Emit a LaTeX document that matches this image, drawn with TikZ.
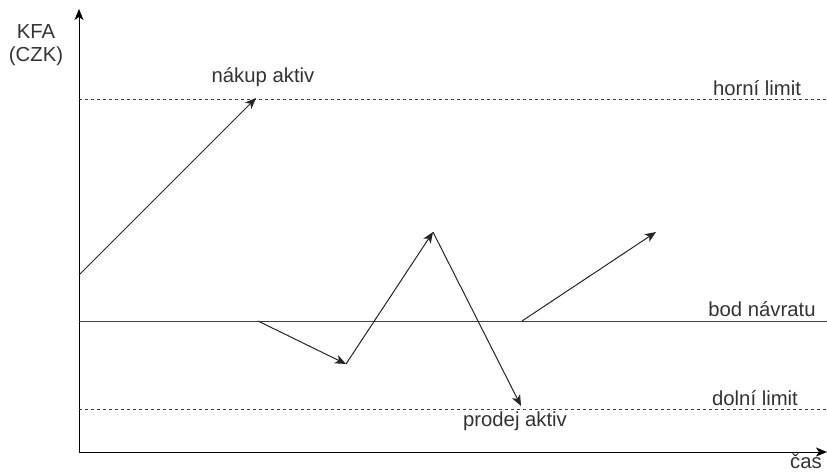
\documentclass[tikz,border=0pt]{standalone}
\usepackage{fontspec}
\setmainfont{Liberation Sans}
\usetikzlibrary{arrows.meta}
\begin{document}
\begin{tikzpicture}[x=1pt,y=-1pt,
  lbl/.style={font=\fontsize{20.3}{23}\selectfont, text=black!80, inner sep=0pt},
  ln/.style={line width=1pt, draw=black!75},
  dsh/.style={ln, dash pattern=on 3pt off 3pt},
  tip/.style={-{Stealth[length=11pt,width=9pt,inset=3pt]}},
  arr/.style={line width=1pt, draw=black!85, tip}]
\useasboundingbox (0,0) rectangle (827,472);
% axes
\coordinate (o) at (79,452);
\coordinate (ytop) at (79,9);
\coordinate (xend) at (827,452);
\draw[line width=1pt, tip] (o) -- (ytop);
\draw[line width=1pt, tip] (o) -- (xend);
% levels
\coordinate (h0) at (79,99);  \coordinate (h1) at (827,99);
\coordinate (b0) at (79,321); \coordinate (b1) at (827,321);
\coordinate (d0) at (79,409); \coordinate (d1) at (827,409);
\draw[dsh] (h0) -- (h1);
\draw[ln] (b0) -- (b1);
\draw[dsh] (d0) -- (d1);
% labels
\node[lbl, align=center] (kfa) at (36,45) {KFA\\(CZK)};
\node[lbl] (horni) at (757,88) {horní limit};
\node[lbl] (bod) at (762,309) {bod návratu};
\node[lbl] (dolni) at (755,398) {dolní limit};
\node[lbl] (cas) at (806,461.5) {čas};
\node[lbl] (nakup) at (263,77) {nákup aktiv};
\node[lbl] (prodej) at (515,421) {prodej aktiv};
% path points
\coordinate (p0) at (79,275);
\coordinate (p1) at (256,98);
\coordinate (q0) at (258,321);
\coordinate (q1) at (346,364);
\coordinate (q2) at (433,232);
\coordinate (q3) at (521,406);
\coordinate (r0) at (522,321);
\coordinate (r1) at (656,232);
\draw[arr] (p0) -- (p1);
\draw[arr] (q0) -- (q1);
\draw[arr] (q1) -- (q2);
\draw[arr] (q2) -- (q3);
\draw[arr] (r0) -- (r1);
\end{tikzpicture}
\end{document}
